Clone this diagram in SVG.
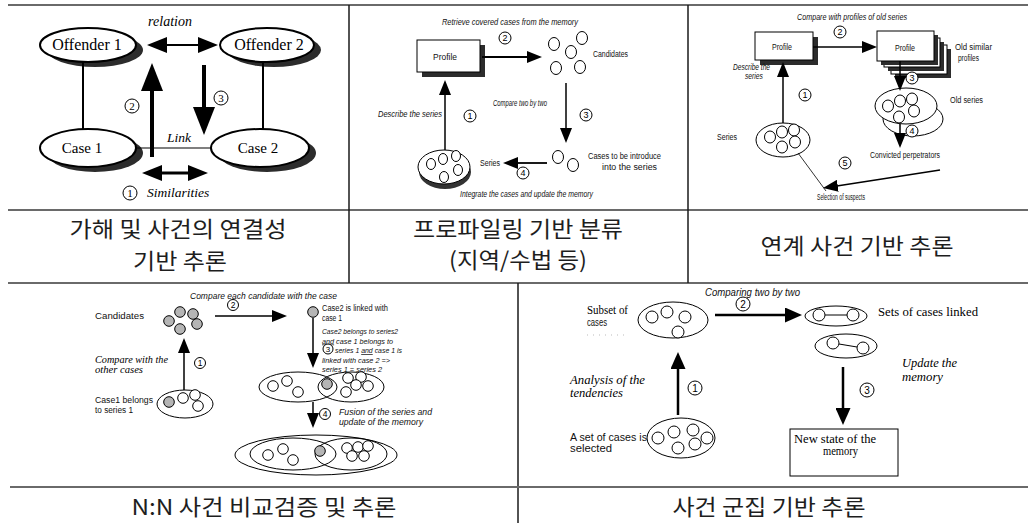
<svg xmlns="http://www.w3.org/2000/svg" width="1031" height="523" viewBox="0 0 1031 523">
<style>
.gh{stroke:#6a6a6a;stroke-width:2;fill:none}
.gv{stroke:#1a1a1a;stroke-width:1.5;fill:none}
.kr{font-family:"Noto Sans CJK KR","Noto Sans",sans-serif;font-size:22px;fill:#1e1e1e;text-anchor:middle}
.se{font-family:"Liberation Serif","Times New Roman",serif;fill:#000}
.sa{font-family:"Liberation Sans",Arial,sans-serif;fill:#111;font-size:8.5px}
.it{font-style:italic}
.mid{text-anchor:middle}
.wn{fill:#fff;stroke:#000;stroke-width:2}
.sh{fill:#2c2c2c;stroke:none}
.bx{fill:#fff;stroke:#000;stroke-width:1}
.c{fill:#fff;stroke:#000;stroke-width:1}
.cg{fill:#b5b5b5;stroke:#000;stroke-width:1}
.el{fill:#fff;stroke:#000;stroke-width:1}
.num circle{fill:#fff;stroke:#000;stroke-width:1}
.num text{text-anchor:middle;font-family:"Liberation Sans",Arial,sans-serif;fill:#000;font-size:9px}
.ln{stroke:#000;fill:none}
</style>
<defs>
<marker id="hA" viewBox="0 0 28 22" markerWidth="28" markerHeight="22" refX="2" refY="11" orient="auto" markerUnits="userSpaceOnUse"><path d="M0,0 L28,11 L0,22 z" fill="#000"/></marker>
<marker id="hB" viewBox="0 0 20 16" markerWidth="20" markerHeight="16" refX="2" refY="8" orient="auto-start-reverse" markerUnits="userSpaceOnUse"><path d="M0,0 L20,8 L0,16 z" fill="#000"/></marker>
<marker id="hC" viewBox="0 0 15 12" markerWidth="15" markerHeight="12" refX="1" refY="6" orient="auto" markerUnits="userSpaceOnUse"><path d="M0,0 L15,6 L0,12 z" fill="#000"/></marker>
<marker id="hD" viewBox="0 0 17 15" markerWidth="17" markerHeight="15" refX="1" refY="7.5" orient="auto" markerUnits="userSpaceOnUse"><path d="M0,0 L17,7.5 L0,15 z" fill="#000"/></marker>
</defs>
<rect width="1031" height="523" fill="#fff"/>

<g id="grid">
<line class="gh" x1="8" y1="5" x2="1028" y2="5"/>
<line class="gh" x1="8" y1="210" x2="1028" y2="210"/>
<line class="gh" x1="8" y1="283" x2="1028" y2="283"/>
<line class="gv" x1="349" y1="5" x2="349" y2="283"/>
<line class="gv" x1="688" y1="5" x2="688" y2="283"/>
<line class="gv" x1="518" y1="283" x2="518" y2="523"/>
<line class="gh" x1="10" y1="487" x2="1028" y2="487"/>
</g>

<g id="captions">
<text class="kr" x="178" y="237" textLength="217" lengthAdjust="spacingAndGlyphs">가해 및 사건의 연결성</text>
<text class="kr" x="180" y="269" textLength="94" lengthAdjust="spacingAndGlyphs">기반 추론</text>
<text class="kr" x="518" y="237" textLength="210" lengthAdjust="spacingAndGlyphs">프로파일링 기반 분류</text>
<text class="kr" x="518" y="268" textLength="138" lengthAdjust="spacingAndGlyphs">(지역/수법 등)</text>
<text class="kr" x="857" y="254" textLength="193" lengthAdjust="spacingAndGlyphs">연계 사건 기반 추론</text>
<text class="kr" x="264" y="515" textLength="265" lengthAdjust="spacingAndGlyphs">N:N 사건 비교검증 및 추론</text>
<text class="kr" x="769" y="515" textLength="193" lengthAdjust="spacingAndGlyphs">사건 군집 기반 추론</text>
</g>

<!-- Panel 1 -->
<g id="p1-offender1"><ellipse class="sh" cx="95" cy="50" rx="48" ry="17"/><ellipse class="wn" cx="88" cy="45" rx="48" ry="17"/><text class="se mid" x="87" y="50" font-size="16">Offender 1</text></g>
<g id="p1-offender2"><ellipse class="sh" cx="274" cy="50" rx="47" ry="17"/><ellipse class="wn" cx="267" cy="45" rx="47" ry="17"/><text class="se mid" x="269" y="50" font-size="16">Offender 2</text></g>
<g id="p1-case1"><ellipse class="sh" cx="95" cy="153" rx="48" ry="19"/><ellipse class="wn" cx="88" cy="148" rx="48" ry="19"/><text class="se mid" x="82" y="153" font-size="15">Case 1</text></g>
<g id="p1-case2"><ellipse class="sh" cx="267" cy="153" rx="49" ry="19"/><ellipse class="wn" cx="260" cy="148" rx="49" ry="19"/><text class="se mid" x="258" y="153" font-size="15">Case 2</text></g>
<g id="p1-labels">
<text class="se it mid" x="170" y="26" font-size="14">relation</text>
<text class="se it" x="167" y="142" font-size="13.5">Link</text>
<text class="se it" x="147" y="197" font-size="13.5">Similarities</text>
</g>
<g id="p1-nums" class="num">
<circle cx="130" cy="193" r="7" stroke-width="1.5"/><text x="130" y="197" style="font-family:'Liberation Serif',serif;font-size:11px">1</text>
<circle cx="132" cy="106" r="7" stroke-width="1.5"/><text x="132" y="110" style="font-family:'Liberation Serif',serif;font-size:11px">2</text>
<circle cx="221" cy="98" r="7" stroke-width="1.5"/><text x="221" y="102" style="font-family:'Liberation Serif',serif;font-size:11px">3</text>
</g>

<!-- Panel 2 -->
<g id="p2-profile"><rect class="sh" x="422" y="45" width="63" height="32"/><rect class="bx" x="417" y="40" width="63" height="32"/><text class="sa" x="433" y="60" textLength="24" lengthAdjust="spacingAndGlyphs">Profile</text></g>
<g id="p2-candidates">
<ellipse class="c" cx="554" cy="44" rx="5.5" ry="6.5"/><ellipse class="c" cx="582" cy="38" rx="5.5" ry="6.5"/><ellipse class="c" cx="571" cy="52" rx="5.5" ry="6.5"/><ellipse class="c" cx="556" cy="68" rx="5.5" ry="6.5"/><ellipse class="c" cx="580" cy="67" rx="5.5" ry="6.5"/>
<text class="sa" x="593" y="57" textLength="35" lengthAdjust="spacingAndGlyphs">Candidates</text>
</g>
<g id="p2-introduce">
<ellipse class="c" cx="558" cy="157" rx="5.5" ry="6.5"/><ellipse class="c" cx="573" cy="165" rx="5.5" ry="6.5"/>
<text class="sa" x="588" y="159" textLength="73" lengthAdjust="spacingAndGlyphs">Cases to be introduce</text>
<text class="sa" x="602" y="170" textLength="55" lengthAdjust="spacingAndGlyphs">into the series</text>
</g>
<g id="p2-series">
<ellipse fill="#333" cx="445" cy="172" rx="26" ry="17"/>
<ellipse class="el" cx="444" cy="167" rx="26" ry="17"/>
<ellipse class="c" cx="431" cy="164" rx="4.5" ry="5.5"/><ellipse class="c" cx="443" cy="159" rx="4.5" ry="5.5"/><ellipse class="c" cx="456" cy="156" rx="4.5" ry="5.5"/><ellipse class="c" cx="458" cy="170" rx="4.5" ry="5.5"/><ellipse class="c" cx="444" cy="177" rx="4.5" ry="5.5"/>
<text class="sa" x="480" y="166" textLength="20" lengthAdjust="spacingAndGlyphs">Series</text>
</g>
<g id="p2-labels">
<text class="sa it" x="442" y="25" textLength="136" lengthAdjust="spacingAndGlyphs">Retrieve covered cases from the memory</text>
<text class="sa it" x="378" y="117" textLength="64" lengthAdjust="spacingAndGlyphs">Describe the series</text>
<text class="sa it" x="493" y="106" textLength="54" lengthAdjust="spacingAndGlyphs">Compare two by two</text>
<text class="sa it" x="460" y="197" textLength="133" lengthAdjust="spacingAndGlyphs">Integrate the cases and update the memory</text>
</g>
<g id="p2-nums" class="num">
<circle cx="505" cy="38" r="6"/><text x="505" y="41">2</text>
<circle cx="470" cy="116" r="6"/><text x="470" y="119">1</text>
<circle cx="586" cy="115" r="6"/><text x="586" y="118">3</text>
<circle cx="523" cy="173" r="6"/><text x="523" y="176">4</text>
</g>

<!-- Panel 3 -->
<g id="p3-profile"><rect class="sh" x="760" y="37" width="58" height="28"/><rect class="bx" x="755" y="32" width="58" height="28"/><text class="sa" x="772" y="50" textLength="20" lengthAdjust="spacingAndGlyphs">Profile</text></g>
<g id="p3-old-profiles">
<rect class="sh" x="895" y="49" width="56" height="29"/><rect class="bx" x="891" y="45" width="56" height="29"/>
<rect class="sh" x="888" y="42" width="56" height="29"/><rect class="bx" x="884" y="38" width="56" height="29"/>
<rect class="sh" x="881" y="35" width="57" height="30"/><rect class="bx" x="877" y="31" width="57" height="30"/>
<text class="sa" x="895" y="51" textLength="20" lengthAdjust="spacingAndGlyphs">Profile</text>
<text class="sa" x="955" y="50" textLength="37" lengthAdjust="spacingAndGlyphs">Old similar</text>
<text class="sa" x="958" y="61" textLength="21" lengthAdjust="spacingAndGlyphs">profiles</text>
</g>
<g id="p3-old-series">
<ellipse class="el" cx="913" cy="119" rx="30" ry="17"/>
<ellipse class="el" cx="906" cy="106" rx="31" ry="18"/>
<ellipse class="c" cx="888" cy="106" rx="5.5" ry="6"/><ellipse class="c" cx="900" cy="101" rx="5.5" ry="6"/><ellipse class="c" cx="912" cy="99" rx="5.5" ry="6"/><ellipse class="c" cx="914" cy="111" rx="5.5" ry="6"/><ellipse class="c" cx="899" cy="117" rx="5.5" ry="6"/>
<text class="sa" x="950" y="103" textLength="33" lengthAdjust="spacingAndGlyphs">Old series</text>
</g>
<g id="p3-series">
<ellipse class="el" cx="783" cy="140" rx="27" ry="17"/>
<ellipse class="c" cx="770" cy="137" rx="5.5" ry="6"/><ellipse class="c" cx="782" cy="132" rx="5.5" ry="6"/><ellipse class="c" cx="794" cy="130" rx="5.5" ry="6"/><ellipse class="c" cx="795" cy="142" rx="5.5" ry="6"/><ellipse class="c" cx="782" cy="147" rx="5.5" ry="6"/>
<text class="sa" x="717" y="140" textLength="20" lengthAdjust="spacingAndGlyphs">Series</text>
</g>
<g id="p3-convicted"><text class="sa" x="870" y="158" textLength="70" lengthAdjust="spacingAndGlyphs">Convicted perpetrators</text></g>
<g id="p3-suspects"><text class="sa" x="817" y="200" textLength="48" lengthAdjust="spacingAndGlyphs">Selection of suspects</text></g>
<g id="p3-labels">
<text class="sa it" x="733" y="70" textLength="37" lengthAdjust="spacingAndGlyphs">Describe the</text>
<text class="sa it" x="745" y="79" textLength="18" lengthAdjust="spacingAndGlyphs">series</text>
<text class="sa it" x="797" y="20" textLength="110" lengthAdjust="spacingAndGlyphs">Compare with profiles of old series</text>
</g>

<!-- Panel 4 -->
<g id="p4-candidates">
<circle class="cg" cx="169" cy="321" r="5.3"/><circle class="cg" cx="180" cy="312" r="5.3"/><circle class="cg" cx="193" cy="314" r="5.3"/><circle class="cg" cx="197" cy="324" r="5.3"/><circle class="cg" cx="180" cy="329" r="5.3"/>
<text class="sa" x="95" y="319" textLength="49" lengthAdjust="spacingAndGlyphs">Candidates</text>
</g>
<g id="p4-case2">
<circle class="cg" cx="313" cy="312" r="5.3"/>
<text class="sa" x="322" y="311" textLength="66" lengthAdjust="spacingAndGlyphs">Case2 is linked with</text>
<text class="sa" x="322" y="321" textLength="20" lengthAdjust="spacingAndGlyphs">case 1</text>
<g class="sa it" style="font-size:7.4px">
<text x="322" y="334" textLength="76" lengthAdjust="spacingAndGlyphs">Case2 belongs to series2</text>
<text x="322" y="343.5" textLength="71" lengthAdjust="spacingAndGlyphs"><tspan style="text-decoration:underline">and</tspan> case 1 belongs to</text>
<text x="335" y="353" textLength="67" lengthAdjust="spacingAndGlyphs">series 1 <tspan style="text-decoration:underline">and</tspan> case 1 is</text>
<text x="322" y="362.5" textLength="68" lengthAdjust="spacingAndGlyphs">linked with case 2 =&gt;</text>
<text x="322" y="372" textLength="60" lengthAdjust="spacingAndGlyphs">series 1 = series 2</text>
</g>
</g>
<g id="p4-series1">
<ellipse class="el" cx="185" cy="404" rx="28" ry="14"/>
<circle class="cg" cx="169" cy="402" r="5.3"/><circle class="c" cx="183" cy="398" r="5.3"/><circle class="c" cx="195" cy="395" r="5.3"/><circle class="c" cx="198" cy="406" r="5.3"/>
<text class="sa" x="95" y="403" textLength="58" lengthAdjust="spacingAndGlyphs">Case1 belongs</text>
<text class="sa" x="95" y="413" textLength="38" lengthAdjust="spacingAndGlyphs">to series 1</text>
</g>
<g id="p4-two-series">
<ellipse class="el" cx="298" cy="387" rx="39" ry="15" fill="none"/>
<ellipse cx="351" cy="387" rx="33" ry="15" fill="none" stroke="#000"/>
<circle class="c" cx="273" cy="386" r="5.3"/><circle class="c" cx="287" cy="381" r="5.3"/><circle class="c" cx="298" cy="392" r="5.3"/><circle class="cg" cx="327" cy="384" r="5.3"/>
<circle class="c" cx="348" cy="378" r="5.3"/><circle class="c" cx="361" cy="377" r="5.3"/><circle class="c" cx="356" cy="385" r="5.3"/><circle class="c" cx="368" cy="386" r="5.3"/><circle class="c" cx="346" cy="392" r="5.3"/>
</g>
<g id="p4-fused">
<ellipse class="el" cx="316" cy="455" rx="81" ry="20"/>
<ellipse cx="293" cy="454" rx="43" ry="16" fill="none" stroke="#000"/>
<ellipse cx="351" cy="454" rx="36" ry="16" fill="none" stroke="#000"/>
<circle class="c" cx="268" cy="455" r="5.3"/><circle class="c" cx="283" cy="449" r="5.3"/><circle class="c" cx="293" cy="460" r="5.3"/><circle class="cg" cx="320" cy="451" r="5.3"/>
<circle class="c" cx="347" cy="448" r="5.3"/><circle class="c" cx="358" cy="447" r="5.3"/><circle class="c" cx="368" cy="446" r="5.3"/><circle class="c" cx="352" cy="456" r="5.3"/><circle class="c" cx="364" cy="456" r="5.3"/>
</g>
<g id="p4-labels">
<text class="sa it" x="190" y="299" textLength="147" lengthAdjust="spacingAndGlyphs">Compare each candidate with the case</text>
<text class="se it" x="95" y="363" font-size="11" textLength="73" lengthAdjust="spacingAndGlyphs">Compare with the</text>
<text class="se it" x="95" y="373" font-size="11" textLength="48" lengthAdjust="spacingAndGlyphs">other cases</text>
<text class="sa it" x="339" y="415" textLength="93" lengthAdjust="spacingAndGlyphs">Fusion of the series and</text>
<text class="sa it" x="339" y="425" textLength="84" lengthAdjust="spacingAndGlyphs">update of the memory</text>
</g>
<g id="p4-nums" class="num">
<circle cx="233" cy="305" r="5.5"/><text x="233" y="308" style="font-size:8.5px">2</text>
<circle cx="200" cy="363" r="5.5"/><text x="200" y="366" style="font-size:8.5px">1</text>
<circle cx="328" cy="349" r="5"/><text x="328" y="352" style="font-size:8px">3</text>
<circle cx="325" cy="414" r="5.5"/><text x="325" y="417" style="font-size:8.5px">4</text>
</g>

<!-- Panel 5 -->
<g id="p5-subset">
<text class="se" x="587" y="314" font-size="12.5" textLength="41" lengthAdjust="spacingAndGlyphs">Subset of</text>
<text class="sa" x="587" y="326" style="font-size:10px" textLength="20" lengthAdjust="spacingAndGlyphs">cases</text>
<line x1="587" y1="335" x2="628" y2="335" stroke="#aaa" stroke-width="0.8" stroke-dasharray="1,5"/>
<ellipse class="el" cx="673" cy="320" rx="35" ry="18"/>
<circle class="c" cx="652" cy="317" r="6"/><circle class="c" cx="667" cy="312" r="6"/><circle class="c" cx="685" cy="317" r="6"/><circle class="c" cx="678" cy="332" r="6"/>
</g>
<g id="p5-linked">
<ellipse class="el" cx="836" cy="316" rx="31" ry="10"/>
<line class="ln" x1="825" y1="315" x2="847" y2="315"/>
<circle class="c" cx="819" cy="315" r="6"/><circle class="c" cx="853" cy="315" r="6"/>
<ellipse class="el" cx="846" cy="346" rx="31" ry="12"/>
<line class="ln" x1="839" y1="344" x2="857" y2="347"/>
<circle class="c" cx="833" cy="343" r="6"/><circle class="c" cx="863" cy="348" r="6"/>
<text class="se" x="878" y="316" font-size="12.5" textLength="100" lengthAdjust="spacingAndGlyphs">Sets of cases linked</text>
</g>
<g id="p5-selected">
<text class="sa" x="570" y="441" style="font-size:10px" textLength="77" lengthAdjust="spacingAndGlyphs">A set of cases is</text>
<text class="sa" x="570" y="452" style="font-size:10px" textLength="42" lengthAdjust="spacingAndGlyphs">selected</text>
<ellipse class="el" cx="681" cy="438" rx="34" ry="20"/>
<circle class="c" cx="658" cy="438" r="6"/><circle class="c" cx="674" cy="432" r="6"/><circle class="c" cx="693" cy="430" r="6"/><circle class="c" cx="707" cy="438" r="6"/><circle class="c" cx="678" cy="448" r="6"/><circle class="c" cx="695" cy="444" r="6"/>
</g>
<g id="p5-memory">
<rect class="bx" x="790" y="429" width="108" height="47"/>
<text class="se" x="794" y="443" font-size="11.5" textLength="82" lengthAdjust="spacingAndGlyphs">New state of the</text>
<text class="se" x="823" y="455" font-size="11.5" textLength="35" lengthAdjust="spacingAndGlyphs">memory</text>
</g>
<g id="p5-labels">
<text class="sa it" x="705" y="296" style="font-size:10px" textLength="95" lengthAdjust="spacingAndGlyphs">Comparing two by two</text>
<text class="se it" x="902" y="367" font-size="12.5" textLength="55" lengthAdjust="spacingAndGlyphs">Update the</text>
<text class="se it" x="902" y="381" font-size="12.5" textLength="41" lengthAdjust="spacingAndGlyphs">memory</text>
<text class="se it" x="570" y="384" font-size="12.5" textLength="75" lengthAdjust="spacingAndGlyphs">Analysis of the</text>
<text class="se it" x="570" y="397" font-size="12.5" textLength="53" lengthAdjust="spacingAndGlyphs">tendencies</text>
</g>
<g id="p5-nums" class="num">
<circle cx="743" cy="304" r="7"/><text x="743" y="308" style="font-size:10px">2</text>
<circle cx="695" cy="388" r="7"/><text x="695" y="392" style="font-size:10px">1</text>
<circle cx="867" cy="390" r="7"/><text x="867" y="394" style="font-size:10px">3</text>
</g>

<g id="connectors" class="ln">
<!-- panel 1 -->
<line x1="83" y1="62" x2="83" y2="129" stroke-width="2"/>
<line x1="263" y1="62" x2="263" y2="129" stroke-width="2"/>
<line x1="137" y1="148" x2="211" y2="148" stroke-width="1.2"/>
<line x1="152" y1="157" x2="152" y2="89" stroke-width="4" marker-end="url(#hA)"/>
<line x1="204" y1="65" x2="204" y2="109" stroke-width="4" marker-end="url(#hA)"/>
<line x1="165" y1="45" x2="200" y2="45" stroke-width="2" marker-start="url(#hB)" marker-end="url(#hB)"/>
<line x1="160" y1="173" x2="190" y2="173" stroke-width="3" marker-start="url(#hB)" marker-end="url(#hB)"/>
<!-- panel 2 -->
<line x1="482" y1="57" x2="528" y2="57" stroke-width="1.8" marker-end="url(#hC)"/>
<line x1="566" y1="83" x2="566" y2="129" stroke-width="1.5" marker-end="url(#hC)"/>
<line x1="547" y1="163" x2="517" y2="163" stroke-width="1.8" marker-end="url(#hC)"/>
<line x1="445" y1="150" x2="445" y2="94" stroke-width="1.5" marker-end="url(#hC)"/>
<!-- panel 3 -->
<line x1="783" y1="123" x2="783" y2="76" stroke-width="1.5" marker-end="url(#hC)"/>
<line x1="813" y1="47" x2="863" y2="47" stroke-width="1.5" marker-end="url(#hC)"/>
<line x1="900" y1="61" x2="900" y2="77" stroke-width="1.5" marker-end="url(#hC)"/>
<line x1="900" y1="124" x2="900" y2="134" stroke-width="1.5" marker-end="url(#hC)"/>
<line x1="940" y1="170" x2="836.8" y2="185.9" stroke-width="1.5" marker-end="url(#hC)"/>
<line x1="798" y1="153" x2="826" y2="191" stroke-width="0.8"/>
<!-- panel 4 -->
<line x1="184" y1="390" x2="184" y2="352" stroke-width="1.5" marker-end="url(#hC)"/>
<line x1="215" y1="316" x2="273" y2="316" stroke-width="1.5" marker-end="url(#hC)"/>
<line x1="313" y1="318" x2="313" y2="354" stroke-width="1.5" marker-end="url(#hC)"/>
<line x1="313" y1="402" x2="313" y2="414" stroke-width="1.5" marker-end="url(#hC)"/>
<!-- panel 5 -->
<line x1="678" y1="415" x2="678" y2="368" stroke-width="2.5" marker-end="url(#hD)"/>
<line x1="715" y1="315" x2="786" y2="315" stroke-width="2.5" marker-end="url(#hD)"/>
<line x1="843" y1="367" x2="843" y2="409" stroke-width="2.5" marker-end="url(#hD)"/>
</g>
<g id="p3-nums" class="num">
<circle cx="840" cy="32" r="6"/><text x="840" y="35">2</text>
<circle cx="805" cy="95" r="6"/><text x="805" y="98">1</text>
<circle cx="912" cy="78" r="6"/><text x="912" y="81">3</text>
<circle cx="912" cy="131" r="6"/><text x="912" y="134">4</text>
<circle cx="845" cy="163" r="6"/><text x="845" y="166">5</text>
</g>
</svg>
